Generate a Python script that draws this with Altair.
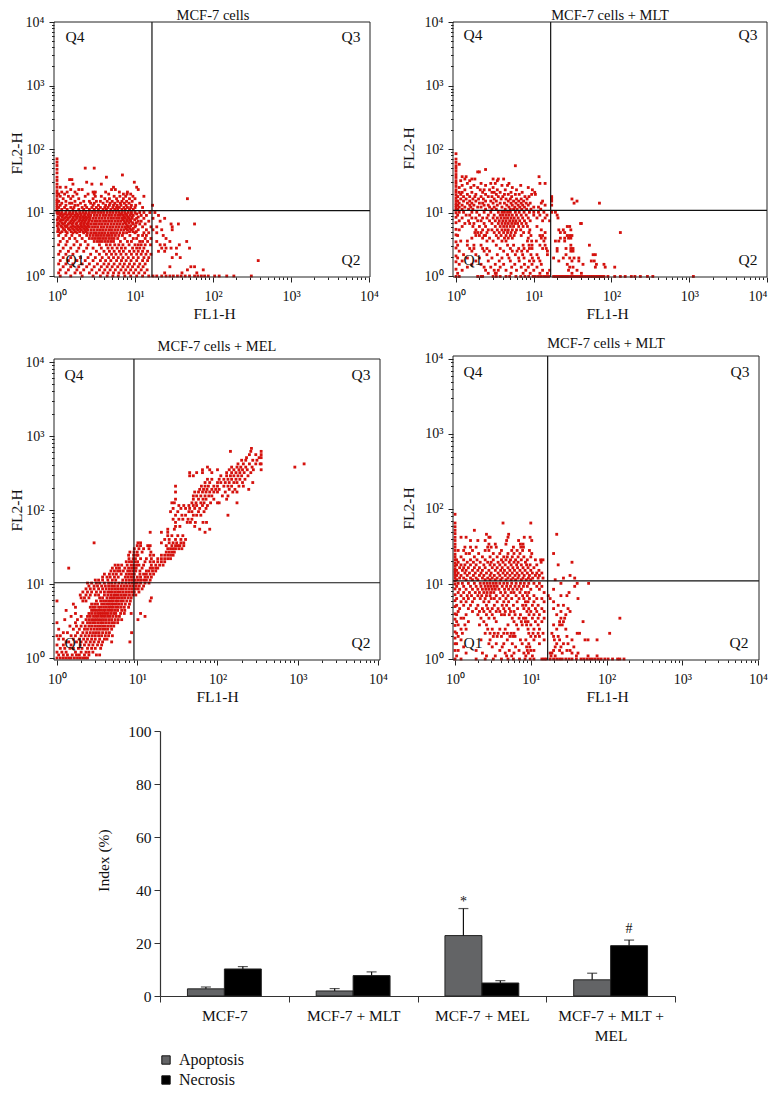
import altair as alt
import pandas as pd

FONT = "Liberation Serif"
RED = "#d5120e"
W, H = 760, 1081

P1_EDGE = [10,11,12,13,14,15,16,18,20,22,25,28,32,36,42,48,55,62,70]
P1_ROWS = [
(50,[2.3,3.0]),(39,[6.9]),(36,[4.3]),(33,[1.45,1.55]),(30,[2.4,9.8]),(28,[1.6,2.8,3.7]),(25,[1.1,1.3,5.3,10.5]),
(23,[1.5,1.9,2.1,5.0,5.6,11]),(21,[1.15,1.35,1.7,2.9,3.1,4.2,6.3,8]),(19.5,[1.05,1.25,1.8,2.5,3.0,4.6,7.1,7.9,8.8]),
(18,[1.1,1.4,1.6,2.3,3.1,3.7,5.4,6.4,7.6,9.4,13]),(16.5,[1.2,1.5,1.9,2.9,4.1,4.7,5.8,7.1,8.5,10,47]),
(15,[1.05,1.3,1.7,2.2,2.6,3.2,3.6,4.4,5.1,6.0,6.8,7.8,9.2]),(14,[1.15,1.45,1.55,2.0,2.7,3.0,3.9,4.8,5.5,6.5,7.3,8.4,11.5]),
(13,[1.1,1.3,1.7,1.85,2.3,2.9,3.4,4.2,4.7,5.3,5.9,6.6,7.7,9,10.2,16.8]),
(12,[1.05,1.25,1.5,1.65,2.1,2.4,2.8,3.2,3.6,4.1,4.5,5.2,5.8,6.3,7.2,8,8.8,10,12.5]),
(11.2,[1.15,1.35,1.6,1.9,2.2,2.6,3,3.4,3.9,4.3,4.9,5.5,6,6.8,7.5,8.5,9.5]),
(10,[1.05,1.15,1.3,1.45,1.6,1.75,1.95,2.15,2.35,2.6,2.85,3.1,3.4,3.7,4,4.4,4.8,5.2,5.7,6.2,6.8,7.4,8.2,9,10,11.5,13,15.5,18]),
(9.5,[1.02,1.12,1.25,1.42,1.58,1.8,2.0,2.3,2.55,6.6,7.6,8.9,10.5]),
(9,[1.1,1.2,1.35,1.5,1.7,1.85,2.05,2.25,2.5,2.7,3,3.25,3.55,3.9,4.2,4.6,5,5.5,6,6.5,7.1,7.8,8.6,9.5,12,14,20]),
(8.5,[1.03,1.16,1.3,1.46,1.62,1.78,1.95,2.15,2.35,2.6,7.3,8.1,9.2,11]),
(8.1,[1.05,1.25,1.4,1.6,1.8,2,2.2,2.4,2.65,2.9,3.15,3.45,3.75,4.1,4.5,4.9,5.3,5.8,6.3,6.9,7.5,8.3,9.1,10.5,13,17,24]),
(7.7,[1.01,1.13,1.2,1.36,1.55,1.72,1.95,2.15,2.35,2.6,7,7.9,8.7,9.9]),
(7.3,[1.1,1.3,1.5,1.65,1.9,2.1,2.3,2.55,2.8,3.05,3.3,3.6,3.95,4.3,4.7,5.1,5.6,6.1,6.6,7.3,8,8.8,11,12,15,21]),
(6.9,[1.02,1.15,1.26,1.45,1.6,1.8,2.05,2.25,2.5,7.5,8.4,9.3,10.4]),
(6.6,[1.05,1.2,1.4,1.55,1.75,2,2.2,2.45,2.7,2.95,3.2,3.5,3.8,4.15,4.5,4.95,5.4,5.9,6.4,7,7.7,9.5,11.5,13.5,29,36,58]),
(6.2,[1.01,1.12,1.26,1.35,1.6,1.83,2.05,2.25,2.5,8,8.8,10.2]),
(5.95,[1.15,1.3,1.5,1.7,1.9,2.1,2.35,2.6,2.85,3.1,3.35,3.7,4,4.4,4.8,5.2,5.7,6.2,6.8,7.4,8.2,10,12.5,16,19,30]),
(5.6,[1.03,1.2,1.4,1.58,1.78,1.98,2.2,2.4,7.7,8.6,9.5]),
(5.35,[1.05,1.25,1.45,1.65,1.85,2.05,2.3,2.5,2.75,3,3.3,3.6,3.9,4.25,4.65,5,5.5,6,6.6,7.2,8,9,11,14,17,22,30]),
(5,[1.02,1.16,1.3,1.52,1.72,1.95,2.15,2.35,8.5,9.4,10.4]),
(4.8,[1.1,1.35,1.6,1.8,2.2,2.45,2.7,2.95,3.2,3.5,3.8,4.1,4.5,4.9,5.3,5.8,6.4,7.1,7.8,10,13,15,19]),
(4.35,[1.05,1.3,1.55,1.95,2.4,2.65,2.9,3.15,3.4,3.7,4,4.35,4.7,5.1,5.6,6.2,6.9,8.6,11,12.5,14,23]),
(3.9,[1.2,1.45,1.7,2.1,2.6,2.85,3.1,3.35,3.6,3.9,4.2,4.6,5,5.4,6,7.4,9.5,10.5,13.5,16,25]),
(3.5,[1.1,1.35,1.8,2.3,3,3.3,3.55,3.8,4.15,4.5,4.9,5.3,6.5,8,9,11.5,12.5,14.5,19,28,46]),
(3.1,[1.05,1.3,1.65,2,2.5,3.5,4.3,4.8,5.5,6.2,7,8.4,10,11,12,13.5,15.8,21,24,37]),
(2.75,[1.2,1.5,1.9,2.4,2.9,3.7,4.5,5.1,5.9,6.7,7.5,9.3,10.5,11.5,13,22,25,29,34,50]),
(2.45,[1.1,1.4,1.8,2.2,3.2,4,4.7,5.4,6.3,7.1,8.5,9.7,11,12.5,14.5,20,24]),
(2.2,[1.05,1.3,1.6,2.7,3.5,4.3,5,5.7,6.6,7.7,9,10.5,12,13.8,16,34]),
(1.95,[1.2,1.5,2,2.5,3.1,3.8,4.6,5.3,6.1,7,8.2,9.5,11,13,15,30,38]),
(1.75,[1.1,1.4,1.8,2.3,2.9,3.6,4.2,4.9,5.8,6.7,7.7,8.9,10.5,12.5,14.5,380]),
(1.55,[1.05,1.3,1.6,2.1,2.6,3.3,4,4.6,5.4,6.4,7.3,8.5,9.8,11.5,13.5]),
(1.4,[1.2,1.5,1.9,2.4,3,3.7,4.4,5.1,6,7,8.1,9.3,11,12.7,28,52,58]),
(1.25,[1.1,1.4,1.8,2.2,2.8,3.5,4.1,4.8,5.6,6.6,7.6,8.8,10.2,12,14.3,47,75]),
(1.12,[1.05,1.3,1.7,2,2.6,3.2,3.9,4.5,5.3,6.2,7.2,8.3,9.6,11.2,13.3,24,40,62]),
(1.0,[1.1,1.5,2.1,2.9,3.6,4.4,5.2,6.1,7.4,8.8,10.5,12.5,15,17,19,22,25,28,31,35,39,44,50,58,64,71,78,87,105,120,150,185,310]),
]

P2_EDGE = [1,1.3,1.7,2.1,2.8,3.5,4.5,5.5,7,8.5,10,11,12,13,14,15.5,17,19,21,23,26,29,32,36,40,45,50,55,62,70,85]
P2_ROWS = [
(58,[1.1]),(55,[5.8]),(48,[2.4]),(44,[1.9,2.0]),(37,[1.2,1.35,11.7]),(34,[1.3,1.6,1.75,3,3.5,4.1]),(32,[1.15,1.5,3.4]),
(29,[1.4,2.1,2.8,3.2,4.8,12,14]),(27,[1.2,1.7,2.4,3.9,4.6,6.8]),(25,[1.1,1.55,1.9,3,5.3,8.5]),(23,[1.3,2.05,2.3,2.7,3.4,4.3,6,9.6]),
(21,[1.1,1.2,1.6,2.2,2.9,3.1,3.7,5.1,7.1,10.3]),(19.5,[1.15,1.4,1.8,2.4,3.3,4.2,4.7,5.8,6.5,9.4,10.5]),
(18,[1.05,1.25,1.5,1.75,2.1,2.6,2.9,3.5,4,5.2,7.7,8.7,17]),(16.5,[1.15,1.35,1.65,1.95,2.25,3.1,3.8,4.4,5,6,6.9,8.2,17,31]),
(15.3,[1.05,1.25,1.5,1.8,2.4,2.8,3.3,4.7,5.5,6.4,7.4,13,17,36]),(14.2,[1.1,1.4,1.6,2,2.2,3,3.7,4.2,5.1,5.9,6.9,8,9,12.5,70,33]),
(13.2,[1.05,1.2,1.5,1.7,2.3,2.6,3.4,4.5,5.3,6.3,7.2,8.5,14,17]),(12.3,[1.1,1.3,1.55,1.9,2.1,2.7,3.1,3.9,4.8,5.7,6.6,7.6,10,11.5]),
(11.4,[1.05,1.2,1.45,1.65,2.4,2.9,3.3,4.3,5,5.5,6.1,7,8.1,9.2,12.3]),
(10.2,[1.1,1.25,1.6,1.85,2.3,2.8,3.5,3.9,4.2,4.6,5,5.8,6.5,7.5,8.8,10,11.5,13.5,17,19]),
(9.2,[1.05,1.35,1.5,2,2.6,3.1,3.7,4,4.4,4.8,5.3,6,6.9,8,10,12,14.8,20]),
(8.3,[1.2,1.6,1.8,2.2,2.5,3,3.4,3.8,4.2,4.6,5.1,5.6,6.3,7.2,8.5,11,14,20.5]),
(7.5,[1.1,1.45,1.9,2.1,2.7,3.2,3.6,4,4.4,4.9,5.4,5.9,6.6,7.6,9,13,16]),
(6.8,[1.3,1.5,1.7,2.3,2.9,3.5,3.9,4.3,4.7,5.2,5.7,6.2,7,8,40,41]),
(6.1,[1.2,1.65,2,2.4,3.2,3.7,4.1,4.5,5,5.5,6.4,7.3,8.3,11,29,27]),
(5.4,[1.1,1.8,2.2,2.6,2.9,3.4,3.9,4.3,4.7,5.3,6,6.8,8.9,12.5,21,24,30]),
(4.9,[1.75,1.9,2.1,2.5,3.1,3.6,4.1,4.6,5.1,5.8,7.4,8.7,14,22,25,130]),
(4.4,[1.05,1.8,2,2.3,2.4,3.3,3.8,4.4,5,5.6,6.9,9.2,12,13,27,29,31]),
(4,[1.6,2.2,2.7,3.5,4.2,4.7,5.3,8.5,12.5,14,22,25,28,30]),
(3.6,[1.15,1.4,2.5,3,3.9,4.4,8.3,9.4,10.8,13.5,19,21,25]),
(3.1,[1.05,1.4,1.7,2.1,3.3,4.6,5.5,7.3,8.7,9.5,12,14,30,52]),
(2.75,[1.5,1.7,2.2,2.5,3.7,5,6.4,7.5,8.8,9.5,13,14.5,20,26,30,32]),
(2.5,[1.1,1.6,2.3,2.7,4.1,5.3,6.1,7,8.3,15,30,32,20]),
(2.2,[1.25,1.8,2.5,3.4,4.6,5.8,7.2,9.2,11,15,58,62,26]),
(1.95,[1.05,1.4,2,2.9,3.9,4.8,6.4,7.5,9.6,11.5,18,24,29,33,38]),
(1.75,[1.2,1.8,2.6,3.6,5,6.5,8.8,10,12,21,31,38,55,60]),
(1.55,[1.1,1.6,2.1,3.2,4.1,5.7,7.6,9.5,12.5,27,43,64,80]),
(1.4,[1.4,2.3,2.8,3.7,5.2,6.9,8.5,11,29,32,62,83,110]),
(1.25,[1.2,2.4,3.1,3.5,4.4,6,7.9,10,13,16,28,36]),
(1.12,[1.05,2.6,3.2,3.3,5.1,7.3,9,12,15,31,41]),
(1.0,[1.1,1.9,2.1,2.2,3.0,3.3,3.7,4.4,4.9,5.9,6.8,7.7,8.6,9.8,10.5,11.5,12.5,13.5,14.5,15.5,18,19,20,21,22,23,24,25,26,27,28,30,32,34,36,38,40,42,45,48,51,54,57,60,63,66,69,72,76,80,90,110,130,150,180,200,235,290,340,1130]),
]

P3_ROWS = [
(1.0,[1,1.1,1.2,1.3,1.4,1.5,1.65,1.8,1.95,2.1,2.25,2.4]),(1.1,[1.05,1.2,1.35,1.55,1.75,1.9,2.2,2.5,3.1,3.4]),
(1.2,[1,1.15,1.3,1.7,2,2.3,2.5,2.8]),(1.35,[1.1,1.25,1.45,1.6,1.85,2.05,2.4,2.7,3.0,3.5]),(1.5,[1,1.2,1.5,1.95,2.2,2.5,2.8,3.2,3.6]),
(1.65,[1.3,1.4,1.75,2,2.3,2.6,2.9,3.3,3.7,4.8,8.1]),(1.8,[1.05,1.2,1.6,1.9,2.15,2.4,2.7,3,3.4,3.9,4.2]),
(2,[1,1.1,1.5,1.7,2.0,2.25,2.5,2.75,3,3.3,3.6,4,4.4,4.9]),(2.2,[1.2,1.35,1.8,2.1,2.35,2.6,2.85,3.1,3.35,3.7,4.1,4.5,8.5]),
(2.45,[1.05,1.6,1.9,2.2,2.4,2.65,2.9,3.15,3.4,3.7,4,4.3,4.8]),(2.7,[1.45,1.75,2,2.25,2.5,2.7,2.95,3.2,3.45,3.7,4,4.35,4.7,5.1]),
(3,[1,1.7,2.1,2.4,2.6,2.8,3,3.25,3.5,3.75,4.05,4.4,4.8,5.2,5.7]),(3.3,[1.25,1.8,2.3,2.5,2.7,2.9,3.1,3.3,3.55,3.8,4.1,4.45,4.8,5.3,5.8,6.4,10.2]),
(3.65,[1.5,2.0,2.4,2.6,2.85,3.05,3.25,3.5,3.75,4,4.3,4.6,5,5.5,6,12.5]),(4,[1.7,2.5,2.7,2.95,3.2,3.4,3.6,3.85,4.1,4.35,4.7,5.1,5.4,6.2,6.9,8.4,11]),
(4.4,[1.3,2.7,2.9,3.1,3.3,3.55,3.8,4,4.3,4.6,4.9,5.3,5.7,6.4,7]),(4.85,[1.7,2.6,2.8,3,3.3,3.5,3.8,4.1,4.4,4.7,5,5.4,5.8,6.3,6.9,7.8]),
(5.35,[1.6,2.7,2.95,3.2,3.6,3.9,4.2,4.5,4.8,5.1,5.5,5.9,6.4,7.1,8]),(5.9,[1,2.1,2.3,3.1,3.5,3.8,4.1,4.4,4.7,5,5.4,5.7,6.2,6.7,7.4,8.2,14.5]),
(6.5,[2.0,2.2,2.5,3.4,3.7,4.2,4.6,4.9,5.2,5.6,6,6.5,7,7.7,8.4,15]),(7.1,[1.95,2.3,2.6,3,3.3,3.9,4.3,4.7,5.1,5.4,5.8,6.3,6.8,7.3,8,8.8,9.6]),
(7.8,[2.1,2.4,2.7,3.1,3.5,3.9,4.3,4.6,4.9,5.3,5.7,6.1,6.6,7.2,7.8,8.5,9.2,10.5]),(8.6,[2.3,2.6,2.9,3.3,3.7,4.1,4.5,4.9,5.3,5.7,6.2,6.7,7.3,8,8.7,9.5,10.3,11.5]),
(9.4,[2.5,2.9,3.2,3.6,4,4.4,4.8,5.2,5.7,6.3,6.9,7.5,8.2,8.9,9.7,10.6,12]),(10.3,[2.4,2.7,3.1,3.4,3.9,4.4,4.8,5.3,5.9,6.5,7.2,7.9,8.6,9.3,10,11,12.5,14]),
(11.3,[3.0,3.3,3.7,4.3,4.9,5.4,6.6,7.3,8,8.7,9.4,10.2,11,12,13,14.5]),(12.4,[3.7,4.2,4.6,5.2,5.8,7.1,7.7,8.4,9,10,11,12.5,13.5,15]),
(13.6,[3.9,4.5,5.0,5.5,6.3,7.3,7.9,8.5,9.2,10.8,12,13,14.5,16]),(15,[4.7,5.2,5.7,6.1,6.7,7.6,8.2,8.9,9.6,10.8,13,14,15.5,17]),
(16.4,[1.4,4.9,5.5,6,7,7.8,8.5,9.2,9.7,11.5,14.5,15.5,17,18]),(18,[5.3,5.8,6.4,7.5,8.4,9,9.8,10.5,12,15,17,19,21]),
(20,[7.3,8,8.6,9.4,10.1,12.5,14.5,16,18,20,22]),(22,[7.9,8.9,9.5,11,13,15,18,20,22,24,26]),(24.5,[7.8,9,9.8,10.2,14.5,16,20,22,24,26,28]),
(27,[8.1,9.1,10,11.5,14.8,23,25,27,29]),(30,[9.2,10.5,12,14,24,26,28,30,33,36]),(33,[10,11,13.5,14.5,23,27,30,32,34,38]),
(36,[2.9,10.2,11,20,25,28,31,35,38]),(40,[22,25,30,35,40]),(45,[24,27,32,37]),(50,[14.5,20,24,70]),(55,[24,29,60,80]),(60,[30,34,52]),
(68,[30,42,46,53,66,73]),(75,[28,33,37,43,48]),(85,[30,36,40,50,55,62,135]),(95,[26,32,44,48,58,68]),(105,[28,35,40,45,52,60,72]),
(115,[33,38,44,50,55,65,75]),(125,[27,29,48,54,62,68,82,100,105,175]),(140,[30,50,58,66,72,90,130]),(155,[50,55,62,70,78,85,115,135]),
(175,[30,52,58,65,72,80,90,100,125,155,175]),(190,[60,67,74,85,95,105,140,165,245]),(210,[30,63,70,77,90,100,120,135,150,185,210]),
(235,[70,80,100,110,125,140,160,175,205,275]),(260,[75,85,105,120,135,150,170,190,220]),(290,[45,50,110,130,145,160,180,200,240]),
(320,[45,55,65,85,130,150,170,190,215,260]),(350,[65,80,100,140,160,185,205,235,280,350]),(380,[75,150,175,195,225,270,920]),
(420,[180,210,250,300,340,350,1200]),(470,[200,225,275,310]),(510,[230,330,350]),(560,[250,300,350]),(620,[145,260,350]),(680,[265]),
]

P4_EDGE = [1.3,1.6,1.9,2.3,2.8,3.4,4,5,6,7.2,8.6,10,11,12,13,14,15,16,17.5,19,21,23,25,28,31,34,38,42,47,52,58,65,85]
P4_ROWS = [
(65,[4.3,10]),(52,[1.8]),(46,[2.6,5.1,22]),(42,[1.2,1.4,2.8,2.9,5,8.2,9.8]),(38,[1.6,2,2.5,4.8,6.9,10.3]),(34,[2.8,3.4,4.7,7.3,7.9]),
(31,[1.35,1.6,1.9,2.7,3,3.5,5.9,7.4,8]),(28,[1.1,1.3,1.7,2.5,2.8,4.1,5.6,6.6,7.8,9.6]),(25.5,[1.4,1.55,2.05,3.2,3.9,5,6,7.2,10.3,20]),
(23,[1.2,1.8,2.3,2.9,3.6,4.4,4.9,5.7,6.8,8.1,10]),(21,[1.05,1.3,1.6,1.95,2.5,3.2,4.1,4.7,5.4,6.3,7.5,9,11.5,14.5,13.5]),
(19.5,[1.1,1.45,1.75,2.15,2.7,3,3.7,4.3,5.2,6,6.8,8.5,13.7,35]),(18,[1.05,1.2,1.35,1.6,1.9,2.4,2.9,3.3,3.9,4.6,5.5,6.5,7.5,8.8,9.8,12,23]),
(16.5,[1.15,1.3,1.5,1.8,2.1,2.5,3.1,3.6,4.2,5,5.8,6.7,7.9,9.2,11]),(15.2,[1.05,1.25,1.4,1.7,2,2.3,2.8,3.4,4,4.5,5.3,6.1,7.2,8.4,10,12.8]),
(14,[1.1,1.35,1.55,1.85,2.2,2.6,3,3.7,4.3,4.9,5.7,6.6,7.7,9,10.5,12,14]),(13,[1.05,1.2,1.45,1.75,2.1,2.4,2.9,3.3,3.9,4.6,5.3,6.2,7,8.2,9.6,11.5,13,33]),
(12,[1.15,1.3,1.6,1.9,2.3,2.7,3.1,3.6,4.2,5,5.8,6.8,7.9,9.3,10.6,12.5,14.5,27,38]),(11.4,[1.05,1.4,1.7,2,2.5,2.9,3.4,4,4.7,5.5,6.3,7.5,8.7,10,21]),
(10.2,[1.1,1.25,1.5,1.8,2.15,2.4,2.65,2.9,3.2,3.5,3.9,4.4,4.9,5.6,6.4,7.3,8.2,9.4,11,13,25,58,41]),
(9.3,[1.05,1.3,1.6,1.9,2.2,2.5,2.75,3,3.3,3.6,4.2,4.8,5.4,6.2,7,8,9,12,14,38]),
(8.5,[1.15,1.4,1.7,2,2.3,2.55,2.8,3.1,3.4,3.8,4.5,5.1,5.8,6.6,7.5,10,13,20]),
(7.7,[1.1,1.3,1.55,1.85,2.1,2.4,2.65,2.95,3.25,4,4.6,5.5,6,7.2,8.5,9.4,15,32]),
(7,[1.2,1.45,1.65,2,2.25,2.6,2.9,3.5,4.3,5,6.4,7.8,9,11,17,25,30]),
(6.4,[1.05,1.3,1.5,1.8,2.15,2.5,3,3.3,3.9,4.7,5.6,7,8.1,9.6,12,14,18,42]),
(5.8,[1.2,1.4,1.7,2.4,2.8,3.6,4.4,5.1,6.6,8.5,9.2,11,15,20]),
(5.2,[1.05,1.3,1.6,2,2.6,3.3,4.2,4.8,5.9,7.8,8.6,10.5,12.5,23,27]),
(4.7,[1.15,1.5,1.9,2.3,2.7,3.1,3.7,4.4,5.2,6.7,8.1,9.4,11.5,14,20,31]),
(4.3,[1.1,1.7,2.1,2.4,2.9,3.5,3.9,4.6,5.4,6,8.9,10,12,15,25,33]),
(3.9,[1.05,1.4,2,2.6,3.1,4.1,4.5,5.2,6.2,7.3,9.5,11,13,22,29]),
(3.5,[1.2,1.3,2.2,2.8,3.3,5.7,7,8,8.6,10.5,12.5,15,150,25,28]),
(3.15,[1.05,1.5,2.4,3.5,6,7.5,8.5,9.2,11.5,14,24,27,49]),
(2.85,[1.1,1.35,2.1,2.6,5,6.5,7.7,8.8,10,12.5,20,24,26]),
(2.5,[1.2,1.4,2.7,3.1,3.9,4.6,6.8,9.2,11,13,22,29]),
(2.2,[1.05,1.25,2.5,2.9,3.3,3.7,4.4,4.9,5.5,6,9.4,10.7,12.5,14.5,19,41,44,110]),
(2,[1.1,3.2,3.6,4.1,5.3,5.8,6.2,10,11.5,13,20,23,30]),
(1.8,[1.2,2.2,2.9,4.9,7.3,8.6,11,15,20.5,24,35,52,57,75]),
(1.6,[1.05,2.8,3.5,4.4,5.7,7.7,9.4,13,22,27,31]),
(1.45,[1.3,3.1,4.2,6.3,8.8,9.7,21,25,37]),(1.3,[1.1,1.9,3.9,5.2,7,9,10,11,20,24,30,33]),
(1.2,[1.4,2.3,4.6,6,8.1,9.3,18,19,26,35,42]),(1.1,[1.05,2.6,3.4,4.8,5.6,8.6,10.5,18.5,21,40,57,75]),
(1.0,[1,1.2,1.9,2.5,3.2,4.1,5,5.9,7.1,8.4,9.8,11,14,15,16,18,20,22,24,26,29,32,35,40,46,50,55,60,65,71,78,85,95,105,120,140,150,170]),
]

SERIES = ["Apoptosis", "Necrosis"]
GROUPS = ["MCF-7", "MCF-7 + MLT", "MCF-7 + MEL", "MCF-7 + MLT + MEL"]
APOPTOSIS = [2.7, 1.9, 22.8, 6.1]
APOPTOSIS_TOP = [3.4, 2.8, 33, 8.6]
NECROSIS = [10.2, 7.7, 4.9, 19]
NECROSIS_TOP = [11.1, 9.1, 5.8, 21.1]

DECADES = [1, 10, 100, 1000, 10000]
TICKS = [m * d for d in DECADES[:-1] for m in range(1, 10)] + [10000]
IS_DEC = "indexof([1,10,100,1000,10000],datum.value)>=0"
LABEL = IS_DEC + " ? '10'+['⁰','¹','²','³','⁴'][round(log(datum.value)/LN10)] : ''"

PANELS = [
    dict(name="MCF-7 cells", frame=(54, 370, 22, 277), dom=(0.915, 10300, 0.965, 10000), gate=(16.5, 10.7), pts=(P1_ROWS, P1_EDGE), tx=213, ty=16, xt=214, yt=(16, 153),
         q=[(75, 37), (351, 37), (75, 260), (351, 260)]),
    dict(name="MCF-7 cells + MLT", frame=(453, 767, 22, 277), dom=(0.915, 10000, 0.98, 10000), gate=(16.5, 10.9), pts=(P2_ROWS, P2_EDGE), tx=610, ty=16, xt=607, yt=(408, 148),
         q=[(473, 35), (748, 35), (473, 260), (748, 260)]),
    dict(name="MCF-7 cells + MEL", frame=(54, 380, 359, 660), dom=(0.918, 10590, 0.94, 10980), gate=(9.1, 10.4), pts=(P3_ROWS, []), tx=217, ty=347, xt=217, yt=(16, 510),
         q=[(74, 375), (361, 375), (74, 643), (361, 643)]),
    dict(name="MCF-7 cells + MLT", frame=(453, 759, 356, 660), dom=(0.94, 10300, 0.97, 10960), gate=(16.7, 11), pts=(P4_ROWS, P4_EDGE), tx=606, ty=344, xt=607, yt=(408, 508),
         q=[(473, 372), (740, 372), (473, 643), (739, 643)]),
]


def panel(p):
    L, R, T, B = [v - 8 for v in p["frame"]]
    x0, x1, y0, y1 = p["dom"]
    sx = alt.Scale(type="log", domain=[x0, x1], range=[L, R], nice=False)
    sy = alt.Scale(type="log", domain=[y0, y1], range=[B, T], nice=False)
    rows, edge = p["pts"]
    xs = [x for y, r in rows for x in r] + [1.0] * len(edge)
    ys = [y for y, r in rows for _ in r] + list(edge)
    df = pd.DataFrame({"FL1": xs, "FL2": ys})
    common = dict(labelFont=FONT, labelFontSize=14, labelColor="#111", titleFont=FONT, titleFontSize=15.5,
                  titleFontWeight="normal", titleColor="#111", domain=False, grid=False, values=TICKS,
                  labelExpr=LABEL, labelOverlap=False, labelFlush=False, labelBound=False, tickColor="#222",
                  tickSize={"condition": {"test": IS_DEC, "value": 5}, "value": 2.5})
    extra = {}
    if p["frame"][1] > 760:
        extra["labelAlign"] = {"condition": {"test": "datum.value==10000", "value": "right"}, "value": "center"}
    ax_x = alt.Axis(orient="bottom", offset=B - H, title="FL1-H", labelPadding=7, titleX=p["xt"] - 8, titleY=36,
                    titleBaseline="middle", **common, **extra)
    ax_y = alt.Axis(orient="left", offset=-L, title="FL2-H", labelPadding=5, titleX=p["yt"][0] - p["frame"][0],
                    titleY=p["yt"][1] - 8, titleBaseline="middle", **common)
    points = alt.Chart(df).mark_square(size=8, color=RED, opacity=1).encode(
        x=alt.X("FL1:Q", scale=sx, axis=ax_x), y=alt.Y("FL2:Q", scale=sy, axis=ax_y))
    gx, gy = p["gate"]
    vline = alt.Chart(pd.DataFrame({"a": [gx], "b": [y0], "c": [y1]})).mark_rule(color="#111", strokeWidth=1.2).encode(
        x=alt.X("a:Q", scale=sx, axis=ax_x), y=alt.Y("b:Q", scale=sy, axis=ax_y), y2="c:Q")
    hline = alt.Chart(pd.DataFrame({"a": [gy], "b": [x0], "c": [x1]})).mark_rule(color="#111", strokeWidth=1.2).encode(
        y=alt.Y("a:Q", scale=sy, axis=ax_y), x=alt.X("b:Q", scale=sx, axis=ax_x), x2="c:Q")
    frame = alt.Chart(pd.DataFrame({"a": [x0], "b": [x1], "c": [y0], "d": [y1]})).mark_rect(
        fillOpacity=0, stroke="#222", strokeWidth=1).encode(
        x=alt.X("a:Q", scale=sx, axis=ax_x), x2="b:Q", y=alt.Y("c:Q", scale=sy, axis=ax_y), y2="d:Q")
    return alt.layer(points, vline, hline, frame)


panels = [panel(p) for p in PANELS]

texts, tx_pos, ty_pos, sizes = [], [], [], []
for p in PANELS:
    texts.append(p["name"]); tx_pos.append(p["tx"] - 8); ty_pos.append(p["ty"] - 8); sizes.append(14.5)
    for lab, (a, b) in zip(["Q4", "Q3", "Q1", "Q2"], p["q"]):
        texts.append(lab); tx_pos.append(a - 8); ty_pos.append(b - 8); sizes.append(15.5)
annot = alt.Chart(pd.DataFrame({"t": texts, "px": tx_pos, "py": ty_pos, "s": sizes})).mark_text(
    font=FONT, color="#111", baseline="middle", align="center").encode(
    x=alt.X("px:Q", scale=None, axis=None), y=alt.Y("py:Q", scale=None, axis=None), text="t:N",
    size=alt.Size("s:Q", scale=None, legend=None))

bars_df = pd.DataFrame({
    "group": GROUPS * 2,
    "series": [SERIES[0]] * 4 + [SERIES[1]] * 4,
    "value": APOPTOSIS + NECROSIS,
    "top": APOPTOSIS_TOP + NECROSIS_TOP,
})
bx = alt.Scale(domain=GROUPS, range=[152, 667], paddingInner=0, paddingOuter=0)
by = alt.Scale(domain=[0, 100], range=[988, 723], nice=False)
boff = alt.XOffset("series:N", scale=alt.Scale(domain=SERIES, paddingInner=0, paddingOuter=0.743))
bar_x_axis = alt.Axis(orient="bottom", offset=988 - H, title=None, tickBand="extent", labelAngle=0, labelFont=FONT,
                      labelFontSize=15.5, labelColor="#111", labelPadding=6, tickSize=6, tickColor="#333",
                      domainColor="#333", domainWidth=1.2, labelLineHeight=20, labelBaseline="top", grid=False,
                      labelExpr="datum.label=='MCF-7 + MLT + MEL' ? ['MCF-7 + MLT +','MEL'] : datum.label")
bar_y_axis = alt.Axis(orient="left", offset=-152, title="Index (%)", values=[0, 20, 40, 60, 80, 100], labelFont=FONT,
                      labelFontSize=15.5, labelColor="#111", labelPadding=3, tickSize=6, tickColor="#333",
                      domainColor="#333", domainWidth=1.2, grid=False, titleFont=FONT, titleFontSize=15.5,
                      titleFontWeight="normal", titleColor="#111", titleX=-57, titleY=852, titleBaseline="middle")
bar = alt.Chart(bars_df).mark_bar(stroke="#222", strokeWidth=1).encode(
    x=alt.X("group:N", scale=bx, axis=bar_x_axis, sort=None),
    xOffset=boff,
    y=alt.Y("value:Q", scale=by, axis=bar_y_axis),
    color=alt.Color("series:N", scale=alt.Scale(domain=SERIES, range=["#636466", "#000000"]),
                    legend=alt.Legend(orient="none", legendX=150, legendY=1044, title=None, symbolType="square",
                                      symbolSize=70, symbolStrokeColor="#111", symbolStrokeWidth=1, labelFont=FONT,
                                      labelFontSize=16, labelColor="#111", rowPadding=4, labelOffset=5, symbolOpacity=1)),
)
err = alt.Chart(bars_df).mark_rule(color="#111", strokeWidth=1.2).encode(
    x=alt.X("group:N", scale=bx, axis=bar_x_axis, sort=None), xOffset=boff,
    y=alt.Y("value:Q", scale=by, axis=bar_y_axis), y2="top:Q")
cap = alt.Chart(bars_df).mark_tick(color="#111", thickness=1.2, size=10, orient="horizontal").encode(
    x=alt.X("group:N", scale=bx, axis=bar_x_axis, sort=None), xOffset=boff,
    y=alt.Y("top:Q", scale=by, axis=bar_y_axis))
MARK_TEXT = ["*", "#"]
MARK_GROUP = ["MCF-7 + MEL", "MCF-7 + MLT + MEL"]
MARK_SERIES = ["Apoptosis", "Necrosis"]
MARK_Y = [35.5, 25.3]
sig = alt.Chart(pd.DataFrame({"t": MARK_TEXT, "group": MARK_GROUP, "series": MARK_SERIES, "y": MARK_Y})).mark_text(
    font=FONT, fontSize=14, color="#111", baseline="middle").encode(
    x=alt.X("group:N", scale=bx, axis=bar_x_axis, sort=None), xOffset=boff,
    y=alt.Y("y:Q", scale=by, axis=bar_y_axis), text="t:N")
barchart = alt.layer(bar, err, cap, sig)

chart = alt.layer(*panels, barchart, annot).resolve_scale(x="independent", y="independent", size="independent").properties(
    width=W, height=H, padding=0, autosize=alt.AutoSizeParams(type="none"), background="white"
).configure_view(stroke=None)

chart.save("out.html", embed_options={"renderer": "svg", "actions": False})
